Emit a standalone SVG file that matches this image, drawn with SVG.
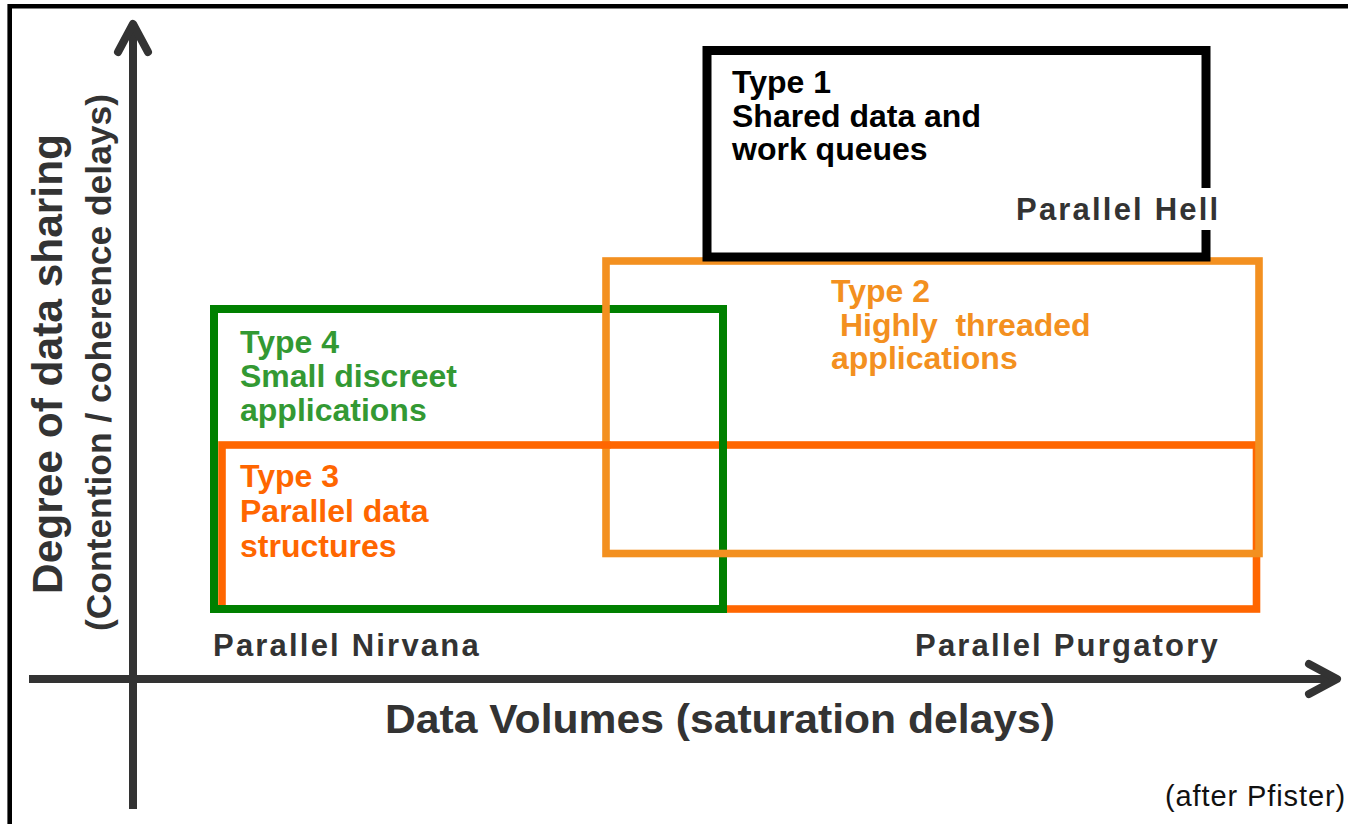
<svg xmlns="http://www.w3.org/2000/svg" width="1348" height="824" viewBox="0 0 1348 824">
  <style>
    text { font-family: "Liberation Sans", Arial, sans-serif; font-weight: 700; }
    .box { fill: none; }
    .t1 { fill: #000000; font-size: 32px; }
    .t2 { fill: #F39020; font-size: 32px; }
    .t3 { fill: #FF6600; font-size: 32px; }
    .t4 { fill: #339933; font-size: 32px; }
    .region { fill: #333333; font-size: 31px; letter-spacing: 2.2px; }
    .axis { stroke: #333333; stroke-width: 8; fill: none; }
    .axislabel { fill: #333333; }
  </style>

  <!-- page background and frame -->
  <rect x="0" y="0" width="1348" height="824" fill="#ffffff"/>
  <path d="M9.7 830 V6.2 H1355" fill="none" stroke="#000000" stroke-width="4.6"/>

  <!-- Type 3: parallel data structures -->
  <g id="type3">
    <rect class="box" x="222" y="445" width="1034.5" height="164" stroke="#FF6600" stroke-width="7.6"/>
    <text class="t3" x="240" y="487">Type  3</text>
    <text class="t3" x="240" y="522">Parallel data</text>
    <text class="t3" x="240" y="557">structures</text>
  </g>

  <!-- Type 4: small discreet applications -->
  <g id="type4">
    <rect class="box" x="214" y="309" width="509" height="300" stroke="#008000" stroke-width="8"/>
    <text class="t4" x="240" y="353">Type  4</text>
    <text class="t4" x="240" y="387">Small discreet</text>
    <text class="t4" x="240" y="421">applications</text>
  </g>

  <!-- Type 2: highly threaded applications -->
  <g id="type2">
    <rect class="box" x="606" y="261" width="653" height="292.5" stroke="#F39020" stroke-width="7.6"/>
    <text class="t2" x="831" y="302">Type  2</text>
    <text class="t2" x="831" y="336" xml:space="preserve"> Highly  threaded</text>
    <text class="t2" x="831" y="369">applications</text>
  </g>

  <!-- Type 3 top edge runs over the Type 2 left edge -->
  <line x1="601.5" y1="445" x2="610.5" y2="445" stroke="#FF6600" stroke-width="7.6"/>

  <!-- Type 1: shared data and work queues -->
  <g id="type1">
    <rect class="box" x="707" y="50.5" width="499" height="206.5" stroke="#000000" stroke-width="9"/>
    <text class="t1" x="732" y="93">Type  1</text>
    <text class="t1" x="732" y="127">Shared data and</text>
    <text class="t1" x="732" y="160">work queues</text>
  </g>

  <!-- quadrant names -->
  <g id="region-hell">
    <rect x="1010" y="188" width="214" height="42" fill="#ffffff"/>
    <text class="region" x="1016" y="220">Parallel Hell</text>
  </g>
  <g id="region-nirvana">
    <text class="region" x="213" y="656">Parallel Nirvana</text>
  </g>
  <g id="region-purgatory">
    <text class="region" x="915" y="656">Parallel Purgatory</text>
  </g>

  <!-- axes -->
  <g id="connectors">
    <line class="axis" x1="133" y1="809" x2="133" y2="26"/>
    <polyline class="axis" points="118,52 133,24 148,52" stroke-linecap="round" stroke-linejoin="round"/>
    <line class="axis" x1="29" y1="679" x2="1334" y2="679"/>
    <polyline class="axis" points="1309,664 1337,679 1309,694" stroke-linecap="round" stroke-linejoin="round"/>
  </g>

  <!-- axis titles -->
  <g id="axis-x-label">
    <text class="axislabel" x="385" y="733" font-size="41" textLength="670" lengthAdjust="spacingAndGlyphs">Data Volumes (saturation delays)</text>
  </g>
  <g id="axis-y-label">
    <text class="axislabel" transform="translate(62 594) rotate(-90)" font-size="42" textLength="460" lengthAdjust="spacingAndGlyphs">Degree of data sharing</text>
    <text class="axislabel" transform="translate(111 631) rotate(-90)" font-size="35" textLength="537" lengthAdjust="spacingAndGlyphs">(Contention / coherence delays)</text>
  </g>

  <!-- source note -->
  <text x="1165" y="806" font-size="29" font-weight="400" fill="#111111" letter-spacing="0.9" style="font-weight:400">(after Pfister)</text>
</svg>
